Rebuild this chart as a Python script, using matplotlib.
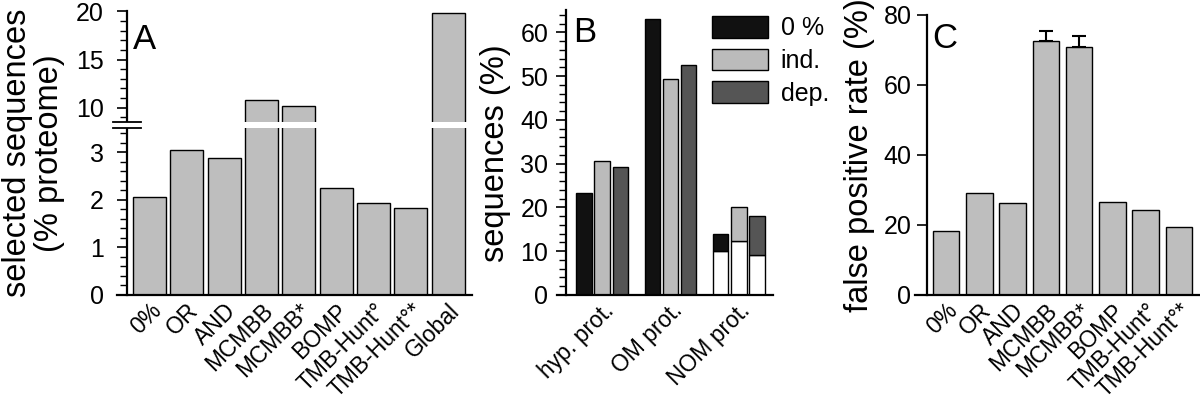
import numpy as np
import matplotlib
matplotlib.use('Agg')
import matplotlib.pyplot as plt
from matplotlib.patches import Patch, Rectangle

plt.rcParams['font.family'] = ['Liberation Sans', 'DejaVu Sans']

# Panel A: selected sequences (% proteome)
methods_a = ['0%', 'OR', 'AND', 'MCMBB', 'MCMBB*', 'BOMP', 'TMB-Hunt°', 'TMB-Hunt°*', 'Global']
selected = [2.05, 3.05, 2.87, 10.8, 10.2, 2.24, 1.94, 1.82, 19.8]

# Panel B: sequences (%)
groups_b = ['hyp. prot.', 'OM prot.', 'NOM prot.']
series_b = ['0 %', 'ind.', 'dep.']
zero_pct = [23.2, 63.0, 13.9]
ind = [30.5, 49.3, 20.0]
dep = [29.2, 52.6, 18.0]
nom_white = [10.0, 12.4, 9.2]  # white lower part of the NOM bars

# Panel C: false positive rate (%)
methods_c = ['0%', 'OR', 'AND', 'MCMBB', 'MCMBB*', 'BOMP', 'TMB-Hunt°', 'TMB-Hunt°*']
fpr = [18.3, 29.2, 26.2, 72.5, 70.9, 26.7, 24.3, 19.3]
fpr_err = [0, 0, 0, 3.0, 3.2, 0, 0, 0]

GRAY = '#bebebe'
colors_b = ['#111111', '#bbbbbb', '#555555']

# broken y axis for panel A
BRK_LO, BRK_HI, R, EPS = 3.577, 8.27, 0.2024, 1e-3


def fwd(v):
    v = np.asarray(v, float)
    mid = BRK_LO + (v - BRK_LO) * EPS
    hi = BRK_LO + (BRK_HI - BRK_LO) * EPS + (v - BRK_HI) * R
    return np.where(v <= BRK_LO, v, np.where(v < BRK_HI, mid, hi))


def inv(u):
    u = np.asarray(u, float)
    u1 = BRK_LO + (BRK_HI - BRK_LO) * EPS
    mid = BRK_LO + (u - BRK_LO) / EPS
    hi = BRK_HI + (u - u1) / R
    return np.where(u <= BRK_LO, u, np.where(u < u1, mid, hi))


W, H = 1200, 404
fig = plt.figure(figsize=(W / 100, H / 100), dpi=100)

YTICK = 18
XTICK = 16.5
YLAB = 23.5
LETTER = 25


def px_axes(l, r, top, bottom):
    return fig.add_axes([l / W, (H - bottom) / H, (r - l) / W, (bottom - top) / H])


def style(ax, spine_px, width_px, pad):
    for s in ['top', 'right']:
        ax.spines[s].set_visible(False)
    for s in ['left', 'bottom']:
        ax.spines[s].set_linewidth(1.6)
    ax.spines['left'].set_position(('axes', spine_px / width_px))
    ax.tick_params(axis='y', which='major', direction='out', length=7.5, width=1.2,
                   labelsize=YTICK, pad=pad)
    ax.tick_params(axis='y', which='minor', direction='out', length=5, width=1.0)
    ax.tick_params(axis='x', length=0, labelsize=XTICK, pad=3)


# ---------- A ----------
axA = px_axes(117, 472, 11.3, 295)
style(axA, 10, 355, 9)
axA.set_yscale('function', functions=(fwd, inv))
xa = np.arange(len(methods_a))
axA.bar(xa, selected, width=0.88, color=GRAY, edgecolor='black', linewidth=1.0)
axA.set_xlim(-0.87, 8.64)
axA.set_ylim(0, 20)
axA.set_yticks([0, 1, 2, 3, 10, 15, 20])
axA.set_yticklabels(['0', '1', '2', '3', '10', '15', '20'])
axA.set_yticks(list(np.arange(0.2, 3.5, 0.2)) + list(range(9, 20)), minor=True)
axA.set_xticks(xa)
axA.set_xticklabels(methods_a, rotation=45, ha='right', rotation_mode='anchor')
axA.set_ylabel('selected sequences\n(% proteome)', fontsize=YLAB, labelpad=8,
               linespacing=1.05)
axA.text(0.045, 0.96, 'A', transform=axA.transAxes, fontsize=LETTER, va='top', ha='left')

brk = float(fwd(BRK_LO)) / float(fwd(20))
axA.add_patch(Rectangle((0.0, brk - 0.0105), 1.0, 0.021, transform=axA.transAxes,
                        facecolor='white', edgecolor='none', zorder=5, clip_on=False))
for dy in (-0.0105, 0.0105):
    axA.plot([-0.012, 0.068], [brk + dy, brk + dy], transform=axA.transAxes,
             color='black', lw=1.3, clip_on=False, zorder=6)

# ---------- B ----------
axB = px_axes(557, 773, 10.4, 295)
style(axB, 9.3, 216, 5.5)
xb = np.arange(len(groups_b))
off = 0.267
bw = 0.225
for j, (vals, c) in enumerate(zip([zero_pct, ind, dep], colors_b)):
    pos = xb + (j - 1) * off
    axB.bar(pos[:2], vals[:2], width=bw, color=c, edgecolor='black', linewidth=1.0)
    # NOM bar: white lower part, coloured upper part
    axB.bar(pos[2], nom_white[j], width=bw, color='white', edgecolor='black', linewidth=1.0)
    axB.bar(pos[2], vals[2] - nom_white[j], bottom=nom_white[j], width=bw, color=c,
            edgecolor='black', linewidth=1.0)
axB.set_xlim(-0.66, 2.5)
axB.set_ylim(0, 65)
axB.set_yticks(np.arange(0, 61, 10))
axB.set_yticks(np.arange(2, 65, 2), minor=True)
axB.set_xticks(xb)
axB.set_xticklabels(groups_b, rotation=45, ha='right', rotation_mode='anchor')
axB.set_ylabel('sequences (%)', fontsize=YLAB, labelpad=7)
axB.text(0.075, 0.98, 'B', transform=axB.transAxes, fontsize=LETTER, va='top', ha='left')
handles = [Patch(facecolor=c, edgecolor='black', linewidth=1.0) for c in colors_b]
fig.legend(handles, series_b, loc='upper left', bbox_to_anchor=(712 / W, (H - 16) / H),
           frameon=False, fontsize=YTICK, handlelength=2.25, handleheight=0.95,
           handletextpad=0.5, labelspacing=0.33, borderpad=0, borderaxespad=0)

# ---------- C ----------
axC = px_axes(915, 1200, 15, 295)
style(axC, 11.7, 285, 3.5)
xc = np.arange(len(methods_c))
axC.bar(xc, fpr, width=0.8, color=GRAY, edgecolor='black', linewidth=1.0)
err = np.array(fpr_err)
mask = err > 0
axC.errorbar(xc[mask], np.array(fpr)[mask], yerr=[np.zeros(mask.sum()), err[mask]],
             fmt='none', ecolor='black', elinewidth=1.5, capsize=5, capthick=1.5)
axC.set_xlim(-0.93, 7.63)
axC.set_ylim(0, 80)
axC.set_yticks(np.arange(0, 81, 20))
axC.set_xticks(xc)
axC.set_xticklabels(methods_c, rotation=45, ha='right', rotation_mode='anchor')
axC.set_ylabel('false positive rate (%)', fontsize=YLAB, labelpad=6)
axC.text(0.062, 0.975, 'C', transform=axC.transAxes, fontsize=LETTER, va='top', ha='left')

fig.savefig('out.png', dpi=100)
